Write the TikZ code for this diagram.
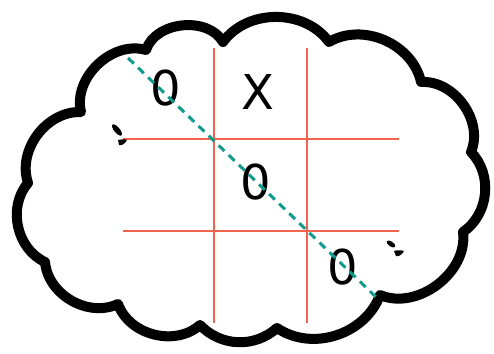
\documentclass[tikz,border=0pt]{standalone}
\usepackage{fontspec}
\setmainfont{DejaVu Sans}
\definecolor{gridred}{RGB}{242,100,80}
\definecolor{teal2}{RGB}{16,155,140}
\begin{document}
\begin{tikzpicture}[x=1pt,y=-1pt,
  cloudline/.style={draw=black,line width=10pt,line join=round,fill=white},
  gridline/.style={draw=gridred,line width=2.5pt},
  winline/.style={draw=teal2,line width=3pt,dash pattern=on 8pt off 6pt},
  tttmark/.style={font=\fontsize{48}{48}\selectfont,anchor=base,inner sep=0pt},
  blob/.style={fill=black,draw=none}]
\useasboundingbox (0,0) rectangle (494,353);
% cloud cusps
\coordinate (P0) at (81,112);
\coordinate (P1) at (146,50);
\coordinate (P2) at (223,42);
\coordinate (P3) at (329,42);
\coordinate (P4) at (421,82);
\coordinate (P5) at (471,152);
\coordinate (P6) at (463,232);
\coordinate (P7) at (380,295);
\coordinate (P8) at (277,328);
\coordinate (P9) at (200,325);
\coordinate (P10) at (118,304);
\coordinate (P11) at (45,262);
\coordinate (P12) at (28,183);
\draw[cloudline] (P0)
  \foreach \b/\t in {P1/60,P2/66,P3/54,P4/54,P5/58,P6/50,P7/60,P8/52,P9/44,P10/56,P11/55,P12/53,P0/55}
  { to[bend left=\t] (\b) } -- cycle;
% grid
\coordinate (V1t) at (214,48);  \coordinate (V1b) at (214,323);
\coordinate (V2t) at (307,48);  \coordinate (V2b) at (307,323);
\coordinate (H1l) at (123,139); \coordinate (H1r) at (399,139);
\coordinate (H2l) at (123,231); \coordinate (H2r) at (399,231);
\draw[gridline] (V1t) -- (V1b);
\draw[gridline] (V2t) -- (V2b);
\draw[gridline] (H1l) -- (H1r);
\draw[gridline] (H2l) -- (H2r);
% marks
\node[tttmark] (o1) at (166,105) {0};
\node[tttmark] (x1) at (258,109) {X};
\node[tttmark] (o2) at (256,199) {0};
\node[tttmark] (o3) at (343,284) {0};
% winning line
\coordinate (W1) at (128,58);
\coordinate (W2) at (377,298);
\draw[winline] (W1) -- (W2);
% small blobs
\fill[blob,rotate around={-50:(117,130)}] (117,130) ellipse (7pt and 2.8pt);
\fill[blob] (118,140) .. controls (121,139) and (125,139) .. (127,140) .. controls (125,144) and (121,146) .. (119,145) -- cycle;
\fill[blob,rotate around={-35:(391,244)}] (391,244) ellipse (5pt and 2.5pt);
\fill[blob] (394,251) .. controls (397,250) and (401,250) .. (404,251) .. controls (402,255) and (398,257) .. (396,256) -- cycle;
\end{tikzpicture}
\end{document}
